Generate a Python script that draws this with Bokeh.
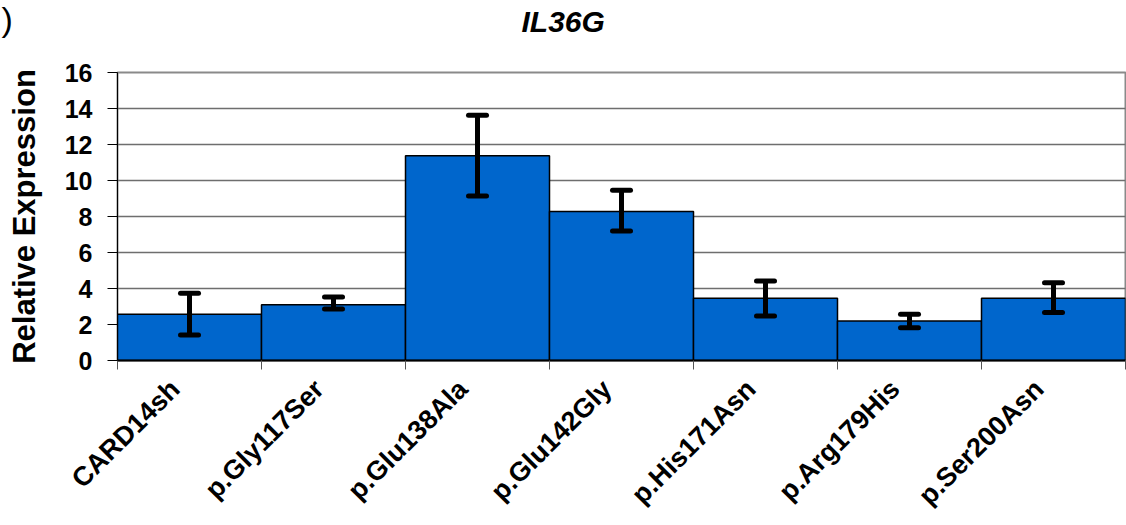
import math
from bokeh.plotting import figure
from bokeh.layouts import column
from bokeh.models import Range1d, FixedTicker, Whisker, TeeHead, ColumnDataSource
from bokeh.core.properties import value
from bokeh.embed import file_html
from bokeh.resources import INLINE

categories = ["CARD14sh", "p.Gly117Ser", "p.Glu138Ala", "p.Glu142Gly",
              "p.His171Asn", "p.Arg179His", "p.Ser200Asn"]
values = [2.57, 3.1, 11.38, 8.28, 3.46, 2.19, 3.46]
err_upper = [3.73, 3.53, 13.62, 9.46, 4.42, 2.57, 4.32]
err_lower = [1.42, 2.86, 9.14, 7.19, 2.47, 1.82, 2.66]
y_ticks = [0, 2, 4, 6, 8, 10, 12, 14, 16]
title_text = "IL36G"
panel_tag = ")"

FONT = "Liberation Sans"
W, H = 1126, 525
HEAD = 44
centers = [i + 0.5 for i in range(len(categories))]
label_pos = [c - 0.1 for c in centers]
bounds = [i for i in range(len(categories) + 1)]

# ---- header strip with the title and the panel tag ----
head = figure(width=W, height=HEAD, output_backend="svg", toolbar_location=None,
              x_range=Range1d(0, W), y_range=Range1d(0, HEAD),
              x_axis_location=None, y_axis_location=None, title=None,
              min_border=0, min_border_left=0, min_border_right=0,
              min_border_top=0, min_border_bottom=0, frame_align=False)
head.grid.visible = False
head.outline_line_color = None
head.background_fill_color = "white"
head.border_fill_color = "white"
head.text(x=[521], y=[HEAD - 21], text=[title_text], text_font=value(FONT),
          text_font_size="30px", text_font_style="bold italic", text_color="black",
          text_align="left", text_baseline="alphabetic")
head.text(x=[1], y=[HEAD - 18], text=[panel_tag], text_font=value(FONT),
          text_font_size="34px", text_font_style="normal", text_color="black",
          text_align="left", text_baseline="alphabetic")

# ---- main chart ----
p = figure(width=W, height=H - HEAD, output_backend="svg", toolbar_location=None,
           x_range=Range1d(0, len(categories)), y_range=Range1d(0, 16),
           min_border_left=117, min_border_right=1, min_border_top=72 - HEAD,
           min_border_bottom=165, frame_align=False)
p.outline_line_color = "#8a8a8a"
p.outline_line_width = 2
p.background_fill_color = "white"
p.border_fill_color = "white"

src = ColumnDataSource(dict(x=centers, top=values, upper=err_upper, lower=err_lower, name=categories))
p.vbar(x="x", top="top", width=1, source=src, fill_color="#0066CC",
       line_color="black", line_width=1.5)

head_u = TeeHead(size=18, line_width=5, line_color="black", line_cap="round")
head_l = TeeHead(size=18, line_width=5, line_color="black", line_cap="round")
w = Whisker(base="x", upper="upper", lower="lower", source=src, line_width=5,
            line_color="black", upper_head=head_u, lower_head=head_l, level="overlay")
p.add_layout(w)

# grid
p.xgrid.visible = False
p.ygrid.grid_line_color = "#6e6e6e"
p.ygrid.grid_line_width = 1.5
p.ygrid.ticker = FixedTicker(ticks=y_ticks)

# y axis
p.yaxis.ticker = FixedTicker(ticks=y_ticks)
p.yaxis.axis_line_color = "black"
p.yaxis.axis_line_width = 1
p.yaxis.major_tick_out = 10
p.yaxis.major_tick_in = 0
p.yaxis.minor_tick_line_color = None
p.yaxis.major_tick_line_color = "black"
p.yaxis.major_label_standoff = 15
p.yaxis.major_label_text_font = FONT
p.yaxis.major_label_text_font_size = "25px"
p.yaxis.major_label_text_font_style = "bold"
p.yaxis.major_label_text_color = "black"
p.yaxis.axis_label = "Relative Expression"
p.yaxis.axis_label_text_font = FONT
p.yaxis.axis_label_text_font_size = "31px"
p.yaxis.axis_label_text_font_style = "bold"
p.yaxis.axis_label_text_color = "black"
p.yaxis.axis_label_standoff = 20

# x axis
p.xaxis.ticker = FixedTicker(ticks=label_pos, minor_ticks=bounds)
p.xaxis.major_label_overrides = {c: n for c, n in zip(label_pos, categories)}
p.xaxis.major_label_orientation = math.pi / 4
p.xaxis.major_tick_out = 0
p.xaxis.major_tick_in = 0
p.xaxis.minor_tick_out = 9
p.xaxis.minor_tick_in = 0
p.xaxis.minor_tick_line_color = "#555555"
p.xaxis.axis_line_color = "black"
p.xaxis.axis_line_width = 2
p.xaxis.major_label_standoff = 15
p.xaxis.major_label_text_font = FONT
p.xaxis.major_label_text_font_size = "27px"
p.xaxis.major_label_text_font_style = "bold"
p.xaxis.major_label_text_color = "black"

layout = column(head, p, spacing=0)
open("out.html", "w").write(file_html(layout, INLINE))
